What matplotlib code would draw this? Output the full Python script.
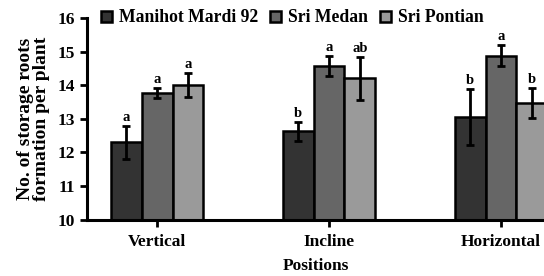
import matplotlib
matplotlib.use("Agg")
import matplotlib.pyplot as plt
import numpy as np

categories = ["Vertical", "Incline", "Horizontal"]
series_names = ["Manihot Mardi 92", "Sri Medan", "Sri Pontian"]
manihot = [12.3, 12.63, 13.05]
medan = [13.77, 14.57, 14.88]
pontian = [14.01, 14.2, 13.47]
manihot_err = [0.5, 0.28, 0.83]
medan_err = [0.15, 0.3, 0.32]
pontian_err = [0.36, 0.65, 0.44]
manihot_sig = ["a", "b", "b"]
medan_sig = ["a", "a", "a"]
pontian_sig = ["a", "ab", "b"]

colors = ["#333333", "#666666", "#9a9a9a"]

plt.rcParams['font.family'] = ['Liberation Serif', 'DejaVu Serif']
plt.rcParams['font.weight'] = 'bold'

fig = plt.figure(figsize=(5.44, 2.76), dpi=100)
ax = fig.add_axes([0.160, 0.204, 0.840, 0.731])

x = np.arange(len(categories))
w = 0.18
vals = [manihot, medan, pontian]
errs = [manihot_err, medan_err, pontian_err]
sigs = [manihot_sig, medan_sig, pontian_sig]
for i, (v, e, s, c, n) in enumerate(zip(vals, errs, sigs, colors, series_names)):
    pos = x + (i - 1) * w
    ax.bar(pos, np.array(v) - 10, w, bottom=10, color=c, edgecolor='black',
           linewidth=1.8, label=n, zorder=2)
    ax.errorbar(pos, v, yerr=e, fmt='none', ecolor='black', elinewidth=2,
                capsize=3, capthick=2, zorder=3)
    for p, val, err, t in zip(pos, v, e, s):
        ax.text(p, val + err + 0.06, t, ha='center', va='bottom', fontsize=10.5,
                fontweight='bold')

ax.set_ylim(10, 16)
ax.set_xlim(-0.407, 2.25)
ax.set_yticks(range(10, 17))
ax.set_xticks(x)
ax.set_xticklabels(categories)
for sp in ['top', 'right']:
    ax.spines[sp].set_visible(False)
for sp in ['left', 'bottom']:
    ax.spines[sp].set_linewidth(2.2)
ax.tick_params(axis='both', width=2, length=5, labelsize=12.5, direction='out')
ax.tick_params(axis='x', pad=5)
ax.set_xlabel("Positions", fontsize=12.5, fontweight='bold', labelpad=6)
ax.set_ylabel("No. of storage roots\nformation per plant", fontsize=14,
              fontweight='bold', labelpad=5.5, linespacing=0.95)

leg = ax.legend(loc='center left', bbox_to_anchor=(0.015, 1.0), ncol=3, frameon=False,
                fontsize=12.7, handlelength=0.6, handleheight=0.6, handletextpad=0.4,
                columnspacing=0.7, borderaxespad=0)

fig.savefig("out.png", dpi=100)
